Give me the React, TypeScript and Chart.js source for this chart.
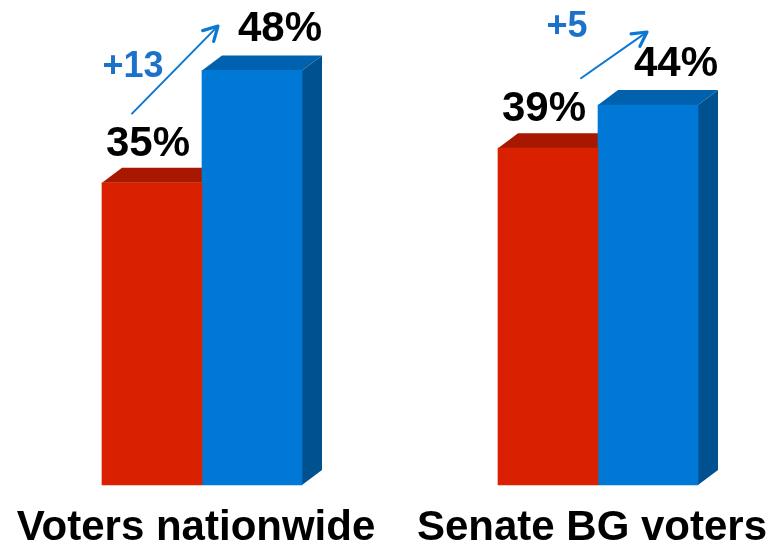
import { useEffect, useRef } from 'react';
import { Chart, registerables } from 'chart.js';

Chart.register(...registerables);

// ---- data ----
const categories = ['Voters nationwide', 'Senate BG voters'];
const seriesRed = [35, 39];
const seriesBlue = [48, 44];
const deltaLabels = ['+13', '+5'];
const yMin = 0;
const yMax = 55;

// ---- annotation placement (arrow tail / tip, delta text) ----
const arrowTailDx = [-70, -17];
const arrowTailVal = [43.0, 47.1];
const arrowTipDx = [16, 49];
const arrowTipVal = [53.15, 52.45];
const deltaDx = [-69, -31];
const deltaVal = [47.2, 51.9];

// ---- styles ----
const FONT = '"Liberation Sans", Arial, Helvetica, sans-serif';
const frontColors = ['#D92000', '#0079D6'];
const topColors = ['#A81800', '#0062AE'];
const sideColors = ['#8E1400', '#00518F'];
const labelDx = [-4, 28];
const labelDy = [27, 29];
const depthX = 20;
const depthY = 15;
const arrowColor = '#0A78D4';
const deltaColor = '#1B72CB';

const bar3d = {
  id: 'bar3d',
  beforeDatasetsDraw(chart: any) {
    const ctx = chart.ctx;
    ctx.save();
    chart.data.datasets.forEach((_ds: any, di: number) => {
      const meta = chart.getDatasetMeta(di);
      meta.data.forEach((el: any) => {
        const { x, y, base, width } = el.getProps(['x', 'y', 'base', 'width'], true);
        const l = x - width / 2;
        const r = x + width / 2;
        ctx.fillStyle = topColors[di];
        ctx.beginPath();
        ctx.moveTo(l, y);
        ctx.lineTo(r, y);
        ctx.lineTo(r + depthX, y - depthY);
        ctx.lineTo(l + depthX, y - depthY);
        ctx.closePath();
        ctx.fill();
        ctx.fillStyle = sideColors[di];
        ctx.beginPath();
        ctx.moveTo(r, y);
        ctx.lineTo(r + depthX, y - depthY);
        ctx.lineTo(r + depthX, base - depthY);
        ctx.lineTo(r, base);
        ctx.closePath();
        ctx.fill();
      });
    });
    ctx.restore();
  },
  afterDatasetsDraw(chart: any) {
    const ctx = chart.ctx;
    const xs = chart.scales.x;
    const ys = chart.scales.y;
    ctx.save();
    // value labels
    ctx.font = `bold 42px ${FONT}`;
    ctx.fillStyle = '#000';
    ctx.textAlign = 'center';
    ctx.textBaseline = 'alphabetic';
    chart.data.datasets.forEach((ds: any, di: number) => {
      const meta = chart.getDatasetMeta(di);
      meta.data.forEach((el: any, i: number) => {
        const { x, y } = el.getProps(['x', 'y'], true);
        ctx.fillText(`${ds.data[i]}%`, x + labelDx[di], y - labelDy[di]);
      });
    });
    // arrows and deltas
    categories.forEach((_c, i) => {
      const cx = xs.getPixelForValue(i);
      const x0 = cx + arrowTailDx[i];
      const y0 = ys.getPixelForValue(arrowTailVal[i]);
      const x1 = cx + arrowTipDx[i];
      const y1 = ys.getPixelForValue(arrowTipVal[i]);
      const ang = Math.atan2(y1 - y0, x1 - x0);
      ctx.strokeStyle = arrowColor;
      ctx.lineCap = 'round';
      ctx.lineJoin = 'round';
      ctx.lineWidth = 2;
      ctx.beginPath();
      ctx.moveTo(x0, y0);
      ctx.lineTo(x1 - Math.cos(ang) * 2, y1 - Math.sin(ang) * 2);
      ctx.stroke();
      const hl = 16;
      const spread = 0.5;
      ctx.lineWidth = 3.2;
      ctx.beginPath();
      ctx.moveTo(x1 - Math.cos(ang - spread) * hl, y1 - Math.sin(ang - spread) * hl);
      ctx.lineTo(x1, y1);
      ctx.lineTo(x1 - Math.cos(ang + spread) * hl, y1 - Math.sin(ang + spread) * hl);
      ctx.stroke();
      ctx.font = `bold 36px ${FONT}`;
      ctx.fillStyle = deltaColor;
      ctx.textAlign = 'center';
      ctx.textBaseline = 'alphabetic';
      ctx.fillText(deltaLabels[i], cx + deltaDx[i], ys.getPixelForValue(deltaVal[i]));
    });
    ctx.restore();
  },
};

export default function App() {
  const ref = useRef<HTMLCanvasElement | null>(null);
  useEffect(() => {
    if (!ref.current) return;
    const chart = new Chart(ref.current, {
      type: 'bar',
      data: {
        labels: categories,
        datasets: [
          { label: 'Before', data: seriesRed, backgroundColor: frontColors[0], clip: false as any },
          { label: 'After', data: seriesBlue, backgroundColor: frontColors[1], clip: false as any },
        ],
      },
      options: {
        responsive: false,
        animation: false,
        devicePixelRatio: 1,
        layout: { padding: { left: 202, right: 179, top: 10, bottom: 0 } },
        datasets: { bar: { barThickness: 100 } },
        plugins: { legend: { display: false }, tooltip: { enabled: false } },
        scales: {
          x: {
            offset: false,
            grid: { display: false },
            border: { display: false },
            ticks: {
              autoSkip: false,
              maxRotation: 0,
              minRotation: 0,
              labelOffset: -6,
              padding: 10,
              color: '#000',
              font: { family: FONT, size: 42, weight: 'bold' },
            },
            afterFit: (scale: any) => {
              scale.height = 60;
              scale.paddingLeft = 0;
              scale.paddingRight = 0;
            },
          },
          y: { display: false, min: yMin, max: yMax },
        },
      },
      plugins: [bar3d],
    });
    return () => chart.destroy();
  }, []);
  return (
    <div style={{ position: 'fixed', left: 0, top: 0, width: 777, height: 545, background: '#fff' }}>
      <canvas ref={ref} width={777} height={545} />
    </div>
  );
}
